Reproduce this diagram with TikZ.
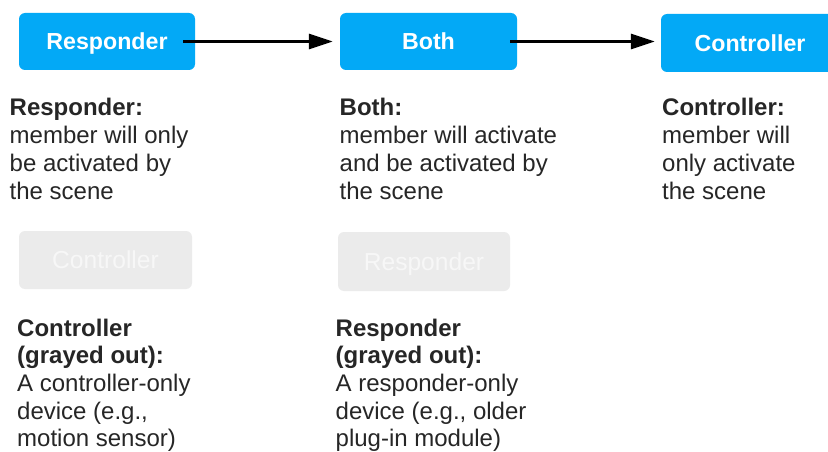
\documentclass[tikz,border=0pt]{standalone}
\usepackage{fontspec}
\setmainfont{Liberation Sans}
\usetikzlibrary{arrows.meta}
\definecolor{boxblue}{HTML}{03A9F6}
\definecolor{boxgray}{HTML}{EBEBEB}
\definecolor{graytext}{HTML}{F7F7F7}
\definecolor{darktext}{HTML}{262626}
\tikzset{
  bluebox/.style={fill=boxblue, rounded corners=6pt, inner sep=0pt, text=white,
    font=\fontsize{23.2}{27}\selectfont\bfseries, text height=16.5pt, text depth=0pt},
  graybox/.style={fill=boxgray, rounded corners=6pt, inner sep=0pt, text=graytext,
    font=\fontsize{24.6}{28}\selectfont, text height=17pt, text depth=0pt},
  desc/.style={anchor=base west, inner sep=0pt, text=darktext,
    font=\fontsize{24}{27.7}\selectfont},
  conn/.style={line width=3pt, -{Triangle[length=24pt,width=15pt]}},
}
\newcommand{\descblock}[1]{\parbox[t]{230pt}{\raggedright #1}}
\begin{document}
\begin{tikzpicture}[x=1pt,y=-1pt]
\useasboundingbox (0,0) rectangle (828,452);
\clip (0,0) rectangle (828,452);
\fill[white] (0,0) rectangle (828,452);
% top boxes
\node[bluebox, minimum width=176pt, minimum height=57pt] (resp) at (107,41.5) {Responder};
\node[bluebox, minimum width=177pt, minimum height=57pt] (both) at (428.5,41.5) {Both};
\node[bluebox, minimum width=178pt, minimum height=58pt] (ctrl) at (750,43) {Controller};
% connectors
\draw[conn] ([xshift=-12pt]resp.east) -- ([xshift=-7pt]both.west |- resp.east);
\draw[conn] ([xshift=-7pt]both.east) -- ([xshift=-6pt]ctrl.west |- both.east);
% descriptions
\node[desc] (respdesc) at (9.5,116) {\descblock{\textbf{Responder:}\\member will only\\be activated by\\the scene}};
\node[desc] (bothdesc) at (339.5,116) {\descblock{\textbf{Both:}\\member will activate\\and be activated by\\the scene}};
\node[desc] (ctrldesc) at (662,116) {\descblock{\textbf{Controller:}\\member will\\only activate\\the scene}};
% gray boxes
\node[graybox, minimum width=173pt, minimum height=58pt] (gctrl) at (105.5,260) {Controller};
\node[graybox, minimum width=172pt, minimum height=59pt] (gresp) at (424,261.5) {Responder};
\node[desc] (gctrldesc) at (17,336) {\descblock{\textbf{Controller}\\\textbf{(grayed out):}\\A controller-only\\device (e.g.,\\motion sensor)}};
\node[desc] (grespdesc) at (335.5,336) {\descblock{\textbf{Responder}\\\textbf{(grayed out):}\\A responder-only\\device (e.g., older\\plug-in module)}};
\end{tikzpicture}
\end{document}
